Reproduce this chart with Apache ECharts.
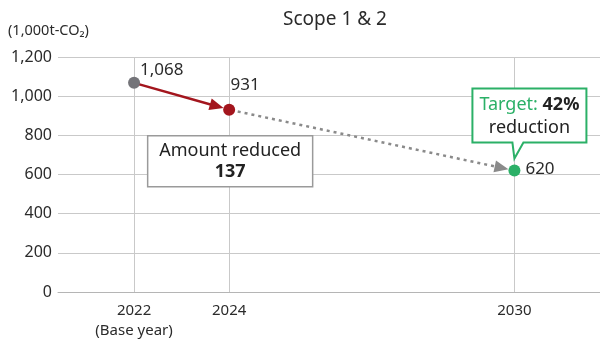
<!DOCTYPE html>
<html>
<head>
<meta charset="utf-8">
<script src="https://cdn.jsdelivr.net/npm/echarts@6/dist/echarts.min.js"></script>
<style>
  html, body { margin: 0; padding: 0; background: #fff; }
  #chart { width: 600px; height: 344px; }
</style>
</head>
<body>
<div id="chart"></div>
<script>
// Scope 1 & 2 emissions (1,000t-CO2): base year, latest actual, 2030 target
const years = [2022, 2024, 2030];
const yearLabels = ['2022\n(Base year)', '2024', '2030'];
const emissions = [1068, 931, 620];
const yTicks = [0, 200, 400, 600, 800, 1000, 1200];

const FONT = "'Noto Sans', 'DejaVu Sans', sans-serif";
const TEXT = '#2b2b2b';
const GRID = '#c9c9c9';
const GRAY = '#747479';
const RED = '#a3151d';
const GREEN = '#2bb067';
const pointColors = [GRAY, RED, GREEN];

const reduced = emissions[0] - emissions[1];
const targetPct = Math.round((emissions[0] - emissions[2]) / emissions[0] * 100);

// point on segment a->b at fraction t (in data space; axes are linear)
function along(i, j, t) {
  return [years[i] + (years[j] - years[i]) * t,
          emissions[i] + (emissions[j] - emissions[i]) * t];
}

const labelPlacement = [
  { position: 'right', distance: 0, offset: [0, -13] },
  { position: 'top', distance: 4, offset: [16, -6] },
  { position: 'right', distance: 5, offset: [0, -1] }
];

const chart = echarts.init(document.getElementById('chart'), null, { renderer: 'canvas' });

chart.setOption({
  animation: false,
  textStyle: { fontFamily: FONT },
  title: {
    text: 'Scope 1 & 2',
    left: 278,
    top: 5,
    textStyle: { fontFamily: FONT, fontSize: 19, fontWeight: 'normal', color: TEXT }
  },
  grid: { left: 58, right: 0, top: 57, bottom: 52 },
  xAxis: {
    type: 'value',
    min: 2020.4,
    max: 2031.8,
    splitLine: { show: false },
    axisTick: { show: false },
    axisLine: { show: true, lineStyle: { color: '#b5b5b5', width: 1 } },
    axisLabel: {
      customValues: years,
      formatter: v => yearLabels[years.indexOf(v)],
      fontFamily: FONT, fontSize: 15, color: TEXT, lineHeight: 20, margin: 9
    }
  },
  yAxis: {
    type: 'value',
    min: yTicks[0],
    max: yTicks[yTicks.length - 1],
    interval: 200,
    axisLine: { show: false },
    axisTick: { show: false },
    splitLine: { lineStyle: { color: GRID, width: 1 } },
    axisLabel: {
      formatter: v => v.toLocaleString('en-US'),
      fontFamily: FONT, fontSize: 16, color: TEXT, margin: 6
    }
  },
  series: [
    {
      // vertical guides at each year shown
      type: 'line',
      data: [],
      silent: true,
      z: 1,
      markLine: {
        silent: true,
        symbol: 'none',
        label: { show: false },
        lineStyle: { color: GRID, width: 1, type: 'solid' },
        data: years.map(y => ({ xAxis: y }))
      }
    },
    {
      // actual reduction arrow, base year -> 2024
      type: 'line',
      data: [],
      silent: true,
      z: 2,
      markLine: {
        silent: true,
        symbol: ['none', 'triangle'],
        symbolSize: [12, 14],
        label: { show: false },
        lineStyle: { color: RED, width: 2.5, type: 'solid', opacity: 1 },
        data: [[{ coord: along(0, 1, 0) }, { coord: along(0, 1, 0.87) }]]
      }
    },
    {
      // pathway to the 2030 target
      type: 'line',
      data: [],
      silent: true,
      z: 2,
      markLine: {
        silent: true,
        symbol: ['none', 'triangle'],
        symbolSize: [12, 14],
        label: { show: false },
        lineStyle: { color: '#8a8a8a', width: 2.5, type: [3, 4], opacity: 1 },
        data: [[{ coord: along(1, 2, 0.03) }, { coord: along(1, 2, 0.955) }]]
      }
    },
    {
      type: 'scatter',
      symbol: 'circle',
      symbolSize: 12,
      z: 5,
      itemStyle: { opacity: 1 },
      data: years.map((y, i) => ({
        value: [y, emissions[i]],
        itemStyle: { color: pointColors[i], opacity: 1 },
        label: Object.assign({
          show: true,
          formatter: emissions[i].toLocaleString('en-US'),
          fontFamily: FONT, fontSize: 17, color: TEXT, opacity: 1
        }, labelPlacement[i])
      }))
    }
  ]
});

// callouts placed relative to the data points
const p24 = chart.convertToPixel({ gridIndex: 0 }, [years[1], emissions[1]]);
const p30 = chart.convertToPixel({ gridIndex: 0 }, [years[2], emissions[2]]);

const box1 = { w: 165, h: 51 };
const b1x = p24[0] - box1.w / 2 + 1;
const b1y = p24[1] + 26;

const box2 = { w: 114, h: 54 };
const b2x = p30[0] - 42;
const b2y = p30[1] - 82;
const tipY = p30[1] - 12;

chart.setOption({
  graphic: [
    {
      type: 'text',
      left: 8, top: 23,
      style: { text: '(1,000t-CO\u2082)', fontFamily: FONT, fontSize: 14.5, fill: TEXT }
    },
    {
      type: 'rect',
      z: 10,
      shape: { x: b1x, y: b1y, width: box1.w, height: box1.h },
      style: { fill: '#fff', stroke: '#9a9a9a', lineWidth: 1.5 }
    },
    {
      type: 'text',
      z: 11,
      x: b1x + box1.w / 2, y: b1y + 26,
      style: {
        text: '{n|Amount reduced}\n{b|' + reduced + '}',
        align: 'center', verticalAlign: 'middle',
        rich: {
          n: { fontFamily: FONT, fontSize: 18, fill: '#222', lineHeight: 21 },
          b: { fontFamily: FONT, fontSize: 18, fontWeight: 'bold', fill: '#222', lineHeight: 21 }
        }
      }
    },
    {
      type: 'polygon',
      z: 10,
      shape: {
        points: [
          [b2x, b2y], [b2x + box2.w, b2y], [b2x + box2.w, b2y + box2.h],
          [p30[0] + 9, b2y + box2.h], [p30[0], tipY], [p30[0] - 2, b2y + box2.h],
          [b2x, b2y + box2.h]
        ]
      },
      style: { fill: '#fff', stroke: GREEN, lineWidth: 2, lineJoin: 'miter' }
    },
    {
      type: 'text',
      z: 11,
      x: b2x + box2.w / 2, y: b2y + 28,
      style: {
        text: '{g|Target: }{b|' + targetPct + '%}\n{n|reduction}',
        align: 'center', verticalAlign: 'middle',
        rich: {
          g: { fontFamily: FONT, fontSize: 18, fill: GREEN, lineHeight: 23 },
          b: { fontFamily: FONT, fontSize: 18, fontWeight: 'bold', fill: '#222', lineHeight: 23 },
          n: { fontFamily: FONT, fontSize: 18, fill: '#222', lineHeight: 23 }
        }
      }
    }
  ]
});
</script>
</body>
</html>
